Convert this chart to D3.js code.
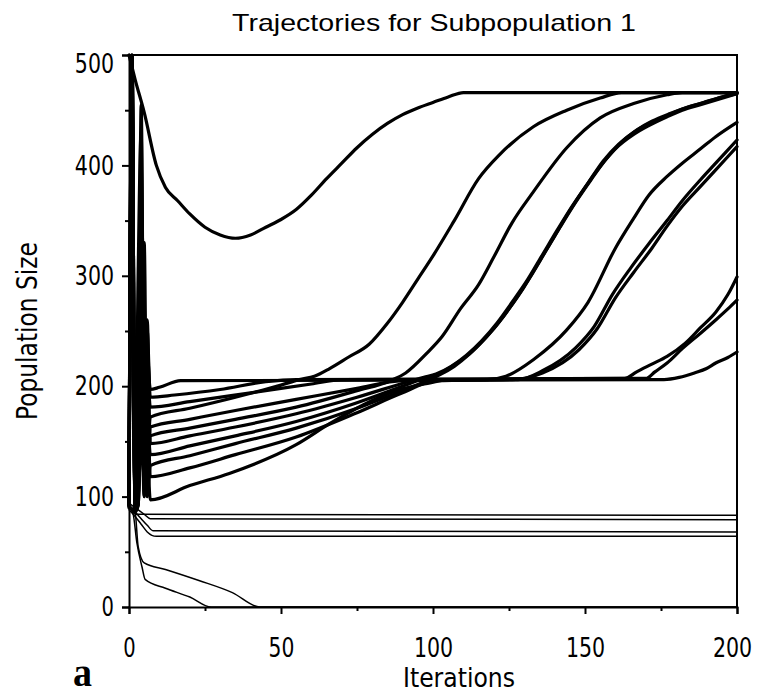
<!DOCTYPE html>
<html><head><meta charset="utf-8">
<script src="https://cdn.jsdelivr.net/npm/d3@7"></script>
<style>body{margin:0;background:#fff}svg{display:block}</style>
</head><body>
<svg id="chart" width="759" height="695"></svg>
<script>
const titleText = "Trajectories for Subpopulation 1";
const xLabelText = "Iterations";
const yLabelText = "Population Size";
const panelText = "a";
const xTicks = [0, 50, 100, 150, 200];
const xMinorTicks = [25, 75, 125, 175];
const yTicks = [0, 100, 200, 300, 400, 500];
const yMinorTicks = [50, 150, 250, 350, 450];

// trajectories: [iteration, population size]
const trajTop = [[0,500],[2,478],[5,448],[9,400],[12,380],[16,368],[20,356],[25,344],[30,337],[35,334],[40,337],[45,344],[50,351],[55,360],[60,373],[65,388],[70,402],[75,416],[80,428],[85,438],[90,446],[95,452],[100,457],[105,462],[110,466],[200,466]];
const trajC3 = [[0,95],[1,500],[2,90],[3,120],[4,455],[5,150],[6,230],[7,197],[10,199],[17,205],[176,206],[181,208],[186,212],[190,216],[193,221],[197,226],[200,231]];
const trajC2 = [[0,93],[1,495],[2,88],[3,300],[4,430],[5,120],[6,250],[7,190],[15,192],[30,197],[45,204],[55,206],[170,207],[173,213],[177,221],[182,234],[188,248],[193,260],[197,270],[200,278]];
const trajC1 = [[0,96],[1,470],[2,90],[3,200],[4,400],[5,100],[6,220],[7,181],[20,186],[40,194],[60,202],[70,206],[163,207],[167,213],[172,220],[177,227],[183,239],[188,253],[193,267],[197,283],[200,299]];
const trajB1 = [[0,92],[1,500],[2,87],[3,92],[4,350],[5,280],[6,140],[7,172],[20,180],[35,190],[50,201],[56,206],[61,209],[66,216],[72,226],[79,238],[85,257],[90,276],[95,297],[100,318],[107,350],[115,388],[122,410],[133,435],[144,450],[155,461],[162,466],[200,466]];
const trajB4a = [[0,94],[1,440],[2,89],[3,110],[4,300],[5,230],[6,120],[7,163],[20,170],[35,178],[55,188],[75,198],[90,205],[118,206],[124,209],[133,224],[144,251],[151,276],[160,325],[166,352],[171,373],[177,390],[182,402],[188,415],[193,426],[200,439]];
const trajB2 = [[0,91],[1,500],[2,86],[3,160],[4,260],[5,330],[6,110],[7,155],[20,162],[35,170],[55,181],[75,196],[86,205],[91,212],[98,230],[103,245],[109,270],[115,292],[120,317],[126,348],[133,376],[144,416],[155,443],[166,456],[177,464],[182,466],[200,466]];
const trajB3a = [[0,95],[1,480],[2,92],[3,105],[4,240],[5,200],[6,260],[7,148],[20,155],[35,163],[55,175],[75,190],[93,205],[97,208],[101,211],[106,218],[111,228],[116,241],[121,257],[126,276],[131,296],[136,319],[141,342],[146,364],[151,384],[156,404],[161,419],[166,430],[171,438],[177,445],[182,451],[188,456],[194,461],[200,466]];
const trajB3b = [[0,93],[1,410],[2,88],[3,250],[4,210],[5,100],[6,180],[7,138],[20,146],[35,155],[55,168],[75,185],[90,200],[96,206],[100,209],[105,216],[110,225],[115,237],[120,252],[125,270],[130,290],[135,313],[140,336],[145,359],[150,380],[155,399],[160,415],[166,428],[171,436],[177,444],[182,450],[188,455],[194,460],[200,465]];
const trajB3c = [[0,90],[1,500],[2,86],[3,92],[4,180],[5,240],[6,100],[7,128],[20,137],[35,148],[55,162],[75,180],[90,196],[98,205],[102,210],[107,218],[112,229],[117,243],[122,259],[127,278],[132,299],[137,322],[142,345],[147,367],[152,387],[157,406],[162,421],[167,432],[172,440],[178,447],[183,452],[189,457],[195,462],[200,465]];
const trajB4b = [[0,92],[1,380],[2,90],[3,100],[4,160],[5,130],[6,200],[7,118],[20,126],[35,138],[55,154],[75,176],[90,194],[101,205],[126,206],[136,212],[148,233],[154,252],[160,280],[166,303],[172,325],[177,345],[182,363],[188,381],[193,396],[200,417]];
const trajB4c = [[0,94],[1,460],[2,88],[3,93],[4,150],[5,120],[6,140],[7,97],[20,110],[33,121],[55,147],[66,166],[77,183],[88,196],[99,203],[105,206],[128,206],[136,214],[147,235],[153,254],[159,283],[165,307],[171,329],[177,350],[182,368],[188,387],[193,402],[200,423]];
const trajF1 = [[0,92],[1,88],[2,84],[200,83]];
const trajF2 = [[0,94],[2,90],[5,84],[7,80],[200,79]];
const trajF3 = [[0,90],[2,86],[4,80],[6,74],[8,69],[200,68]];
const trajF4 = [[0,88],[2,82],[4,75],[6,68],[9,64],[200,64]];
const trajL1 = [[0,90],[1.3,85],[2.6,58],[4.3,36],[5.3,25],[12,17],[20,9],[27,0],[200,0]];
const trajL2 = [[0,92],[2,86],[3,55],[5,40],[12,34],[23,24],[34,13],[43,0],[200,0]];

const thickSeries = [trajTop, trajC3, trajC2, trajC1, trajB1, trajB4a, trajB2, trajB3a, trajB3b, trajB3c, trajB4b, trajB4c];
const thinSeries = [trajF1, trajF2, trajF3, trajF4, trajL1, trajL2];

const svg = d3.select("#chart");
const x = d3.scaleLinear().domain([0, 200]).range([129, 737]);
const y = d3.scaleLinear().domain([0, 500]).range([607, 55]);
const FONT = "'Liberation Sans Narrow','DejaVu Sans Condensed','Liberation Sans',Arial,sans-serif";

const line = d3.line().x(d => x(d[0])).y(d => y(d[1])).curve(d3.curveMonotoneX);

const gLines = svg.append("g").attr("fill", "none").attr("stroke", "#000")
  .attr("stroke-linejoin", "round").attr("stroke-linecap", "round");
gLines.selectAll("path.thin").data(thinSeries).join("path")
  .attr("class", "thin").attr("d", line).attr("stroke-width", 1.5);
gLines.selectAll("path.thick").data(thickSeries).join("path")
  .attr("class", "thick").attr("d", line).attr("stroke-width", 3.2);

// frame
svg.append("path").attr("fill", "none").attr("stroke", "#000").attr("stroke-width", 2)
  .attr("d", `M${x(0)},${y(500)}H${x(200)}V${y(0)}`);

// axes
const xAxis = svg.append("g").attr("transform", `translate(0,${y(0)})`)
  .call(d3.axisBottom(x).tickValues(xTicks).tickSize(7).tickPadding(24).tickFormat(d3.format("d")));
svg.append("g").attr("transform", `translate(0,${y(0)})`)
  .call(d3.axisBottom(x).tickValues(xMinorTicks).tickSize(4).tickFormat(""))
  .call(g => g.select(".domain").remove());
const yAxis = svg.append("g").attr("transform", `translate(${x(0)},0)`)
  .call(d3.axisLeft(y).tickValues(yTicks).tickSize(7).tickPadding(8).tickFormat(d3.format("d")));
svg.append("g").attr("transform", `translate(${x(0)},0)`)
  .call(d3.axisLeft(y).tickValues(yMinorTicks).tickSize(4).tickFormat(""))
  .call(g => g.select(".domain").remove());

svg.selectAll(".domain").attr("stroke-width", 2).attr("stroke", "#000");
svg.selectAll(".tick line").attr("stroke-width", 2).attr("stroke", "#000");
svg.selectAll(".tick text").attr("font-family", FONT).attr("font-size", 27).attr("fill", "#000")
  .each(function() {
    const t = d3.select(this);
    const n = t.text().length;
    if (n) t.attr("textLength", n * 13.4 - 1).attr("lengthAdjust", "spacingAndGlyphs");
  });
yAxis.selectAll(".tick text").filter(d => d === 500).attr("dy", "0.65em");
xAxis.selectAll(".tick text").filter(d => d === 200).attr("dx", -5);

// title and labels
svg.append("text").attr("x", 434).attr("y", 31).attr("text-anchor", "middle")
  .attr("font-family", "'Liberation Sans',Arial,sans-serif").attr("font-size", 24)
  .attr("textLength", 404).attr("lengthAdjust", "spacingAndGlyphs").text(titleText);
svg.append("text").attr("x", 459).attr("y", 687).attr("text-anchor", "middle")
  .attr("font-family", FONT).attr("font-size", 26)
  .attr("textLength", 112).attr("lengthAdjust", "spacingAndGlyphs").text(xLabelText);
svg.append("text").attr("transform", "translate(37,331) rotate(-90)").attr("text-anchor", "middle")
  .attr("font-family", FONT).attr("font-size", 28)
  .attr("textLength", 178).attr("lengthAdjust", "spacingAndGlyphs").text(yLabelText);
svg.append("text").attr("x", 73).attr("y", 686)
  .attr("font-family", "'Liberation Serif','Times New Roman',serif").attr("font-weight", "bold").attr("font-size", 40)
  .attr("textLength", 19).attr("lengthAdjust", "spacingAndGlyphs").text(panelText);
</script>
</body></html>
